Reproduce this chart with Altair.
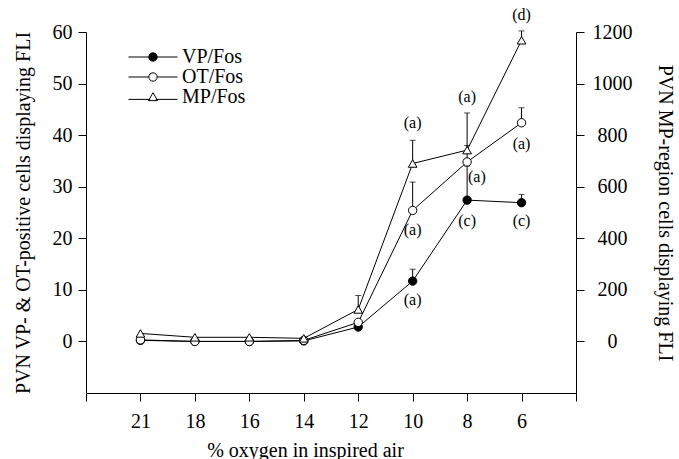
import altair as alt
import pandas as pd

# ---------------- data ----------------
oxygen = ["21", "18", "16", "14", "12", "10", "8", "6"]
idx = [1, 2, 3, 4, 5, 6, 7, 8]

vp = [0.2, 0.0, 0.0, 0.1, 2.8, 11.7, 27.4, 26.9]
vp_top = [None, None, None, None, None, 14.0, 34.0, 28.5]

ot = [0.3, 0.0, 0.0, 0.2, 3.7, 25.4, 34.8, 42.4]
ot_top = [None, None, None, None, None, 30.9, 38.0, 45.3]

mp = [31, 16, 16, 12, 124, 690, 742, 1168]
mp_top = [None, None, None, None, 178, 780, 886, 1204]

series_names = ["VP/Fos", "OT/Fos", "MP/Fos"]

ann_text = ["(a)", "(a)", "(d)", "(a)", "(a)", "(c)", "(c)", "(a)", "(a)"]
ann_x = [6, 7, 8, 8, 7.18, 7, 8, 6, 6]
ann_y = [42.4, 47.4, 63.3, 38.3, 31.9, 23.3, 23.3, 21.6, 8.0]

# ---------------- tables ----------------
df_left = pd.DataFrame({
    "series": ["VP/Fos"] * 8 + ["OT/Fos"] * 8,
    "idx": idx + idx,
    "v": vp + ot,
    "top": vp_top + ot_top,
})
df_mp = pd.DataFrame({"series": ["MP/Fos"] * 8, "idx": idx, "v": mp, "top": mp_top})
df_ann = pd.DataFrame({"t": ann_text, "x": ann_x, "y": ann_y})

FONT = "Liberation Serif"
label_expr = "[" + ",".join(["''"] + ["'%s'" % o for o in oxygen] + ["''"]) + "][datum.value]"

x_scale = alt.Scale(domain=[0, 9], nice=False, zero=False)
x_axis = alt.Axis(values=list(range(10)), labelExpr=label_expr, title="% oxygen in inspired air",
                  grid=False, tickSize=8, labelPadding=10, labelFlush=False,
                  titleX=219, titleY=63, titleAlign="center", titleBaseline="alphabetic")

def xq(field="idx"):
    return alt.X(field + ":Q", scale=x_scale, axis=x_axis)

yl_scale = alt.Scale(domain=[-10, 60], nice=False, zero=False)
yl_axis = alt.Axis(values=[0, 10, 20, 30, 40, 50, 60], title="PVN VP- & OT-positive cells displaying FLI",
                   grid=False, tickSize=8, labelPadding=6,
                   titleX=-57, titleY=180.5, titleAlign="center", titleBaseline="alphabetic")

def yl(field="v"):
    return alt.Y(field + ":Q", scale=yl_scale, axis=yl_axis)

yr_scale = alt.Scale(domain=[-200, 1200], nice=False, zero=False)
yr_axis = alt.Axis(orient="right", values=[0, 200, 400, 600, 800, 1000, 1200], format="d",
                   title="PVN MP-region cells displaying FLI", grid=False, tickSize=8,
                   labelPadding=28, labelAlign="center", titleAngle=90,
                   titleX=82, titleY=180.5, titleAlign="center", titleBaseline="alphabetic")

def yr(field="v"):
    return alt.Y(field + ":Q", scale=yr_scale, axis=yr_axis)

# ---------------- left (VP, OT) ----------------
bl = alt.Chart(df_left)
lines_l = bl.mark_line(color="black", strokeWidth=1).encode(x=xq(), y=yl(), detail="series:N")
err_l = bl.transform_filter("isValid(datum.top)").mark_rule(color="black", strokeWidth=1).encode(
    x=xq(), y=yl(), y2="top:Q")
cap_l = bl.transform_filter("isValid(datum.top)").mark_tick(
    color="black", orient="horizontal", size=6, thickness=1).encode(x=xq(), y=yl("top"))
pts_vp = bl.transform_filter("datum.series == 'VP/Fos'").mark_point(
    shape="circle", filled=True, fill="black", stroke="black", strokeWidth=1, size=70, opacity=1
).encode(x=xq(), y=yl())
pts_ot = bl.transform_filter("datum.series == 'OT/Fos'").mark_point(
    shape="circle", filled=True, fill="white", stroke="black", strokeWidth=1, size=70, opacity=1
).encode(x=xq(), y=yl())

ann = alt.Chart(df_ann).mark_text(font=FONT, fontSize=16, color="black", align="center",
                                  baseline="middle").encode(x=xq("x"), y=yl("y"), text="t:N")

# legend symbols: a short line with the marker in the middle (path units: 1 = 9.5 px)
leg_paths = [
    "M-2.58,0L-0.44,0M0.44,0L2.58,0M0.44,0A0.44,0.44,0,1,1,-0.44,0A0.44,0.44,0,1,1,0.44,0Z",
    "M-2.58,0L-0.44,0M0.44,0L2.58,0M0.44,0A0.44,0.44,0,1,1,-0.44,0A0.44,0.44,0,1,1,0.44,0Z",
    "M-2.58,0.25L-0.3,0.25M0.3,0.25L2.58,0.25M0,-0.45L0.48,0.38L-0.48,0.38Z",
]
leg = alt.Legend(orient="none", legendX=57, legendY=15, title=None, labelFont=FONT,
                 labelFontSize=20, labelColor="black", symbolSize=361,
                 symbolStrokeWidth=1, labelOffset=19, rowPadding=-2.5, padding=0)
legend_layer = alt.Chart(df_left).transform_filter("datum.idx < 0").mark_point(
    filled=True, strokeWidth=1, size=361, opacity=1
).encode(
    shape=alt.Shape("series:N", scale=alt.Scale(domain=series_names, range=leg_paths), legend=leg),
    fill=alt.Fill("series:N", scale=alt.Scale(domain=series_names, range=["black", "white", "white"]),
                  legend=leg),
    stroke=alt.Stroke("series:N", scale=alt.Scale(domain=series_names, range=["black", "black", "black"]),
                      legend=leg),
)

left = alt.layer(lines_l, err_l, cap_l, pts_vp, pts_ot, ann, legend_layer)

# ---------------- right (MP) ----------------
br = alt.Chart(df_mp)
line_r = br.mark_line(color="black", strokeWidth=1).encode(x=xq(), y=yr())
err_r = br.transform_filter("isValid(datum.top)").mark_rule(color="black", strokeWidth=1).encode(
    x=xq(), y=yr(), y2="top:Q")
cap_r = br.transform_filter("isValid(datum.top)").mark_tick(
    color="black", orient="horizontal", size=6, thickness=1).encode(x=xq(), y=yr("top"))
pts_mp = br.mark_point(shape="triangle-up", filled=True, fill="white", stroke="black",
                       strokeWidth=1, size=75, opacity=1).encode(x=xq(), y=yr())
right = alt.layer(line_r, err_r, cap_r, pts_mp)

chart = alt.layer(left, right).resolve_scale(y="independent").properties(
    width=490, height=361,
    autosize=alt.AutoSizeParams(type="none"),
    padding={"left": 86, "top": 32, "right": 103, "bottom": 66},
    background="white",
).configure_axis(
    labelFont=FONT, titleFont=FONT, labelFontSize=20, titleFontSize=20, titleFontWeight="normal",
    labelColor="black", titleColor="black", domainColor="black", tickColor="black",
    domainWidth=1, tickWidth=1,
).configure_view(stroke=None)

chart.save("out.html", embed_options={"renderer": "svg", "actions": False})
